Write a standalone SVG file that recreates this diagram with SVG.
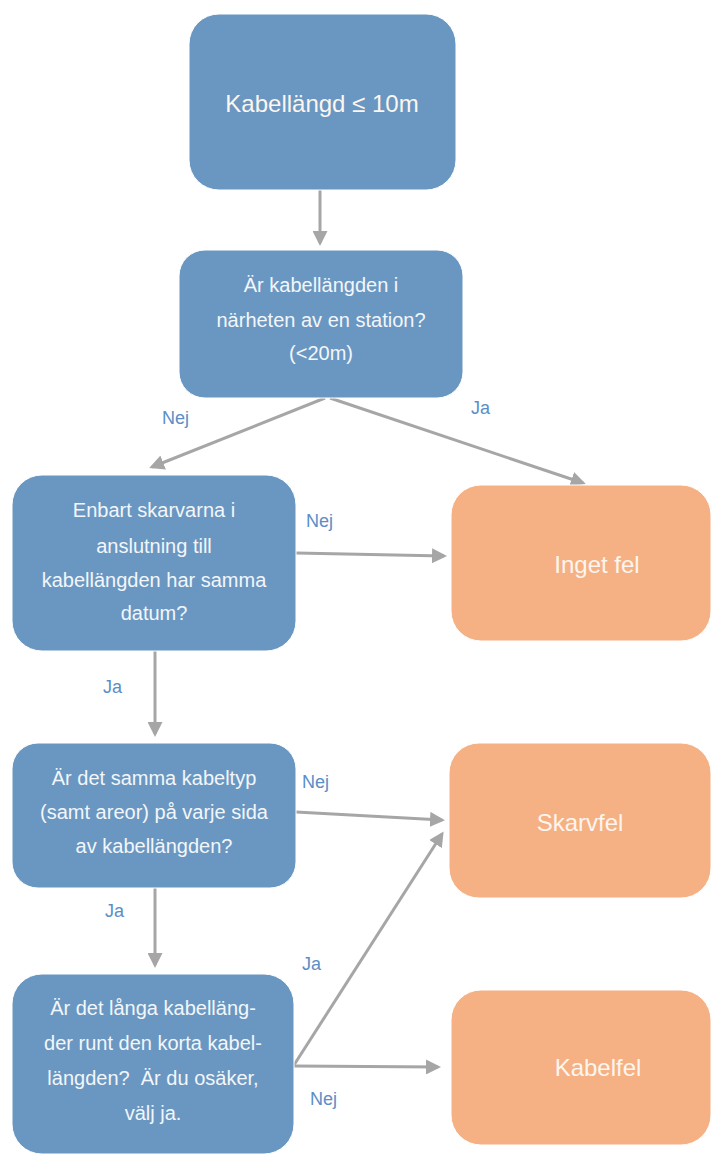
<svg xmlns="http://www.w3.org/2000/svg" width="711" height="1154" viewBox="0 0 711 1154">
<style>
.q{fill:#6a97c1;stroke:#ffffff;stroke-width:1}
.r{fill:#f5b183;stroke:#ffffff;stroke-width:1}
.t{font-family:"Liberation Sans",Arial,sans-serif;fill:#f2f6fa;text-anchor:middle;font-size:20px}
.tb{font-family:"Liberation Sans",Arial,sans-serif;fill:#fdf5ef;text-anchor:middle;font-size:24px}
.l{font-family:"Liberation Sans",Arial,sans-serif;fill:#5b8ec8;font-size:18px}
.c{stroke:#a6a6a6;stroke-width:3;fill:none;marker-end:url(#ah)}
</style>
<defs>
<marker id="ah" markerWidth="5" markerHeight="5" refX="4" refY="2.5" orient="auto" markerUnits="strokeWidth">
<path d="M0,0 L5,2.5 L0,5 Z" fill="#a6a6a6"/>
</marker>
</defs>
<g id="connectors">
<line class="c" x1="320" y1="190" x2="320" y2="243"/>
<line class="c" x1="325" y1="398" x2="152" y2="467"/>
<line class="c" x1="330" y1="398" x2="583" y2="483"/>
<line class="c" x1="296" y1="553" x2="444" y2="556"/>
<line class="c" x1="155" y1="651" x2="155" y2="734"/>
<line class="c" x1="296" y1="812" x2="442" y2="820"/>
<line class="c" x1="155" y1="888" x2="155" y2="965"/>
<line class="c" x1="294" y1="1065" x2="442" y2="834"/>
<line class="c" x1="294" y1="1066" x2="438" y2="1067"/>
<text class="l" x="162" y="424">Nej</text>
<text class="l" x="471" y="414">Ja</text>
<text class="l" x="306" y="527">Nej</text>
<text class="l" x="103" y="693">Ja</text>
<text class="l" x="302" y="788">Nej</text>
<text class="l" x="105" y="917">Ja</text>
<text class="l" x="302" y="970">Ja</text>
<text class="l" x="310" y="1105">Nej</text>
</g>
<g id="n1">
<rect class="q" x="189" y="14" width="267" height="176" rx="30"/>
<text class="tb" x="322" y="112">Kabellängd ≤ 10m</text>
</g>
<g id="n2">
<rect class="q" x="179" y="250" width="284" height="148" rx="26"/>
<text class="t" x="321" y="292">Är kabellängden i</text>
<text class="t" x="321" y="327">närheten av en station?</text>
<text class="t" x="321" y="360">(&lt;20m)</text>
</g>
<g id="n3">
<rect class="q" x="12" y="475" width="284" height="176" rx="30"/>
<text class="t" x="154" y="517">Enbart skarvarna i</text>
<text class="t" x="154" y="553">anslutning till</text>
<text class="t" x="154" y="587">kabellängden har samma</text>
<text class="t" x="154" y="620">datum?</text>
</g>
<g id="n4">
<rect class="q" x="12" y="743" width="284" height="145" rx="26"/>
<text class="t" x="154" y="785">Är det samma kabeltyp</text>
<text class="t" x="154" y="819">(samt areor) på varje sida</text>
<text class="t" x="154" y="853">av kabellängden?</text>
</g>
<g id="n5">
<rect class="q" x="12" y="974" width="282" height="180" rx="30"/>
<text class="t" x="153" y="1015">Är det långa kabelläng-</text>
<text class="t" x="153" y="1050">der runt den korta kabel-</text>
<text class="t" x="153" y="1085">längden?&#160; Är du osäker,</text>
<text class="t" x="153" y="1120">välj ja.</text>
</g>
<g id="r1">
<rect class="r" x="451" y="485" width="260" height="156" rx="30"/>
<text class="tb" x="597" y="573">Inget fel</text>
</g>
<g id="r2">
<rect class="r" x="449" y="743" width="262" height="155" rx="30"/>
<text class="tb" x="580" y="831">Skarvfel</text>
</g>
<g id="r3">
<rect class="r" x="451" y="990" width="260" height="155" rx="30"/>
<text class="tb" x="598" y="1076">Kabelfel</text>
</g>
</svg>
